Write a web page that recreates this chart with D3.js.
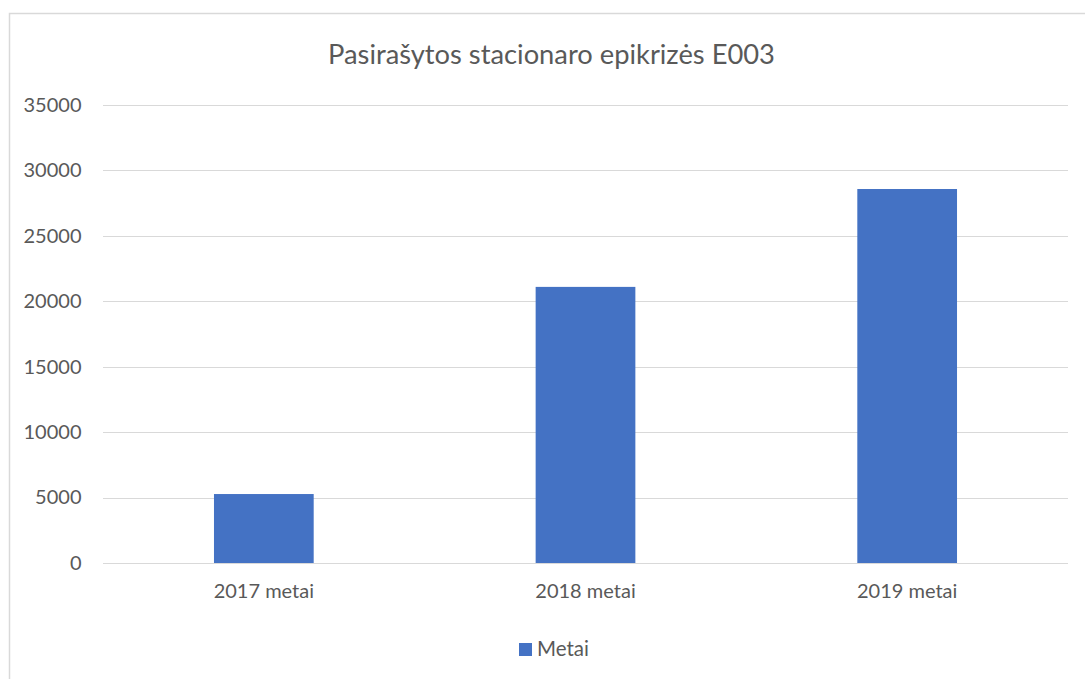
<!DOCTYPE html>
<html><head><meta charset="utf-8">
<script src="https://cdn.jsdelivr.net/npm/d3@7"></script>
<style>body{margin:0;background:#fff}svg{display:block}</style>
</head><body>
<svg id="c" width="1085" height="679"></svg>
<script>
const categories = ["2017 metai", "2018 metai", "2019 metai"];
const values = [5270, 21100, 28580];
const yTicks = [0, 5000, 10000, 15000, 20000, 25000, 30000, 35000];
const seriesName = "Metai";
const title = "Pasirašytos stacionaro epikrizės E003";

(function () {
const svg = d3.select("#c");
const font = "Lato, 'Open Sans', sans-serif";
const pL = 103, pR = 1068, pT = 105, pB = 563;
const txt = "#595959";

// chart border
svg.append("path").attr("d", "M9.5,679 V13.5 H1085").attr("fill", "none").attr("stroke", "#d9d9d9").attr("stroke-width", 1.5);

const x = d3.scaleBand().domain(categories).range([pL, pR]).paddingInner(0.69).paddingOuter(0.345);
const y = d3.scaleLinear().domain([0, 35000]).range([pB, pT]);

// gridlines
svg.append("g").selectAll("line").data(yTicks).join("line")
  .attr("x1", pL).attr("x2", pR)
  .attr("y1", d => Math.round(y(d)) + 0.5).attr("y2", d => Math.round(y(d)) + 0.5)
  .attr("stroke", "#d9d9d9").attr("stroke-width", 1);

// y axis labels
const ya = svg.append("g").attr("transform", `translate(${pL},0)`)
  .call(d3.axisLeft(y).tickValues(yTicks).tickSize(0).tickPadding(21.5).tickFormat(d3.format("d")));
ya.select(".domain").remove();
ya.selectAll("text").attr("font-family", font).attr("font-size", 20).attr("fill", txt);

// bars
svg.append("g").selectAll("rect").data(values).join("rect")
  .attr("x", (d, i) => x(categories[i]))
  .attr("width", x.bandwidth())
  .attr("y", d => y(d))
  .attr("height", d => y(0) - y(d))
  .attr("fill", "#4472c4");

// x axis labels
const xa = svg.append("g").attr("transform", `translate(0,${pB})`)
  .call(d3.axisBottom(x).tickSize(0).tickPadding(0));
xa.select(".domain").remove();
xa.selectAll("text").attr("font-family", font).attr("font-size", 20).attr("fill", txt)
  .attr("y", 35).attr("dy", null);

// title
svg.append("text").attr("x", 551.5).attr("y", 64).attr("text-anchor", "middle")
  .attr("font-family", font).attr("font-size", 27.3).attr("fill", txt).text(title);

// legend
const lg = svg.append("g");
lg.append("rect").attr("x", 519).attr("y", 643).attr("width", 13).attr("height", 13).attr("fill", "#4472c4");
lg.append("text").attr("x", 537).attr("y", 656).attr("font-family", font).attr("font-size", 20.5).attr("fill", txt).text(seriesName);
})();
</script>
</body></html>
